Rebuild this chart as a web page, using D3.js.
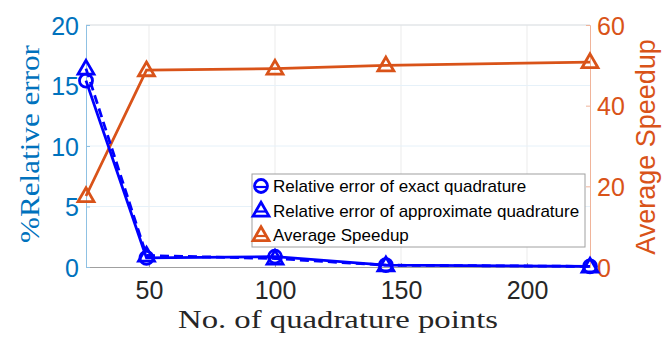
<!DOCTYPE html>
<html>
<head>
<meta charset="utf-8">
<script src="https://cdn.jsdelivr.net/npm/d3@7"></script>
<style>
  body { margin: 0; background: #fff; }
  svg { display: block; }
</style>
</head>
<body>
<svg width="664" height="343"></svg>
<script>
// quadrature points
const points = [25, 49, 100, 144, 225];
// % relative error
const errExact = [15.4, 0.75, 0.85, 0.15, 0.05];
const errApprox = [16.4, 0.95, 0.7, 0.15, 0.05];
// average speedup
const speedup = [17.6, 48.8, 49.2, 50.0, 50.8];

const xTicks = [50, 100, 150, 200];
const yLeftTicks = [0, 5, 10, 15, 20];
const yRightTicks = [0, 20, 40, 60];

const blue = "#0000ff", axBlue = "#0072bd", orange = "#d95319";
const sans = "'Liberation Sans', Arial, sans-serif";
const serif = "'Liberation Serif', 'DejaVu Serif', serif";

const svg = d3.select("svg");
const area = { left: 86, right: 590, top: 25, bottom: 267 };

const scX = d3.scaleLinear().domain([25, 225]).range([area.left, area.right]);
const scYL = d3.scaleLinear().domain([0, 20]).range([area.bottom, area.top]);
const scYR = d3.scaleLinear().domain([0, 60]).range([area.bottom, area.top]);

// grid
svg.append("g").selectAll("line").data(xTicks).join("line")
    .attr("x1", d => scX(d)).attr("x2", d => scX(d))
    .attr("y1", area.top).attr("y2", area.bottom)
    .attr("stroke", "#ebebeb").attr("stroke-width", 1);
svg.append("g").selectAll("line").data(yLeftTicks.slice(1)).join("line")
    .attr("x1", area.left).attr("x2", area.right)
    .attr("y1", d => scYL(d)).attr("y2", d => scYL(d))
    .attr("stroke", "#e6f1f9").attr("stroke-width", 1);

// axes
const axX = svg.append("g")
    .attr("transform", `translate(0, ${area.bottom})`)
    .call(d3.axisBottom(scX).tickValues(xTicks).tickSize(-4).tickPadding(14));
axX.select(".domain").attr("stroke", "#a0a0a0");
axX.selectAll(".tick line").attr("stroke", "#a0a0a0");
axX.selectAll("text").attr("fill", "#262626")
    .style("font-family", sans).style("font-size", "25px");

// top border
svg.append("line").attr("x1", area.left).attr("x2", area.right)
    .attr("y1", area.top).attr("y2", area.top)
    .attr("stroke", "#e0e0e0");

const axL = svg.append("g")
    .attr("transform", `translate(${area.left}, 0)`)
    .call(d3.axisLeft(scYL).tickValues(yLeftTicks).tickSize(-4).tickPadding(7));
axL.select(".domain").attr("stroke", "#8fc1e3");
axL.selectAll(".tick line").attr("stroke", "#8fc1e3");
axL.selectAll("text").attr("fill", axBlue).attr("dy", "0.36em")
    .style("font-family", sans).style("font-size", "25px");

const axR = svg.append("g")
    .attr("transform", `translate(${area.right}, 0)`)
    .call(d3.axisRight(scYR).tickValues(yRightTicks).tickSize(-4).tickPadding(7));
axR.select(".domain").attr("stroke", "#f0b49a");
axR.selectAll(".tick line").attr("stroke", "#f0b49a");
axR.selectAll("text").attr("fill", orange).attr("dy", "0.36em")
    .style("font-family", sans).style("font-size", "25px");

// axis labels
svg.append("text")
    .attr("x", 178).attr("y", 328)
    .attr("textLength", 320).attr("lengthAdjust", "spacingAndGlyphs")
    .attr("fill", "#262626")
    .style("font-family", serif).style("font-size", "26px")
    .text("No. of quadrature points");

svg.append("text")
    .attr("transform", "translate(39, 243) rotate(-90)")
    .attr("textLength", 198).attr("lengthAdjust", "spacingAndGlyphs")
    .attr("fill", axBlue)
    .style("font-family", serif).style("font-size", "27px")
    .text("%Relative error");

svg.append("text")
    .attr("transform", `translate(655, ${(area.top + area.bottom) / 2 + 1}) rotate(-90)`)
    .attr("text-anchor", "middle")
    .attr("fill", orange)
    .style("font-family", sans).style("font-size", "27px")
    .text("Average Speedup");

// lines
const lineL = d3.line().x((d, i) => scX(points[i])).y(d => scYL(d));
const lineR = d3.line().x((d, i) => scX(points[i])).y(d => scYR(d));

svg.append("path").datum(speedup).attr("d", lineR)
    .attr("fill", "none").attr("stroke", orange).attr("stroke-width", 2.8);
svg.append("path").datum(errApprox).attr("d", lineL)
    .attr("fill", "none").attr("stroke", blue).attr("stroke-width", 2.8)
    .attr("stroke-dasharray", "9,5");
svg.append("path").datum(errExact).attr("d", lineL)
    .attr("fill", "none").attr("stroke", blue).attr("stroke-width", 2.8);

const tri = d3.symbol().type(d3.symbolTriangle).size(110);

function triangles(vals, sc, color) {
  svg.append("g").selectAll("path").data(vals).join("path")
      .attr("d", tri)
      .attr("transform", (d, i) => `translate(${scX(points[i])}, ${sc(d) + 1})`)
      .attr("fill", "none").attr("stroke", color).attr("stroke-width", 2.8);
}
function circles(vals, sc, color) {
  svg.append("g").selectAll("circle").data(vals).join("circle")
      .attr("cx", (d, i) => scX(points[i])).attr("cy", d => sc(d))
      .attr("r", 6.5)
      .attr("fill", "none").attr("stroke", color).attr("stroke-width", 2.8);
}
triangles(speedup, scYR, orange);
circles(errExact, scYL, blue);
triangles(errApprox, scYL, blue);

// legend
const lg = svg.append("g").attr("transform", "translate(252, 174)");
lg.append("rect").attr("width", 333).attr("height", 73)
    .attr("fill", "#fff").attr("stroke", "#a0a0a0").attr("stroke-width", 1);
const legendItems = [
  { label: "Relative error of exact quadrature", color: blue, shape: "circle" },
  { label: "Relative error of approximate quadrature", color: blue, shape: "tri" },
  { label: "Average Speedup", color: orange, shape: "tri" }
];
legendItems.forEach((it, i) => {
  const y = 12 + i * 24.5;
  if (it.shape === "circle") {
    lg.append("circle").attr("cx", 9).attr("cy", y).attr("r", 6.5)
        .attr("fill", "none").attr("stroke", it.color).attr("stroke-width", 2.8);
  } else {
    lg.append("path").attr("d", tri).attr("transform", `translate(9, ${y + 1})`)
        .attr("fill", "none").attr("stroke", it.color).attr("stroke-width", 2.8);
  }
  // short line sample through the marker
  lg.append("line").attr("x1", 4).attr("x2", 14).attr("y1", y + 1).attr("y2", y + 1)
      .attr("stroke", it.color).attr("stroke-width", 2.2);
  lg.append("text").attr("x", 21).attr("y", y + 6)
      .attr("fill", "#000")
      .style("font-family", sans).style("font-size", "17px")
      .text(it.label);
});
</script>
</body>
</html>
